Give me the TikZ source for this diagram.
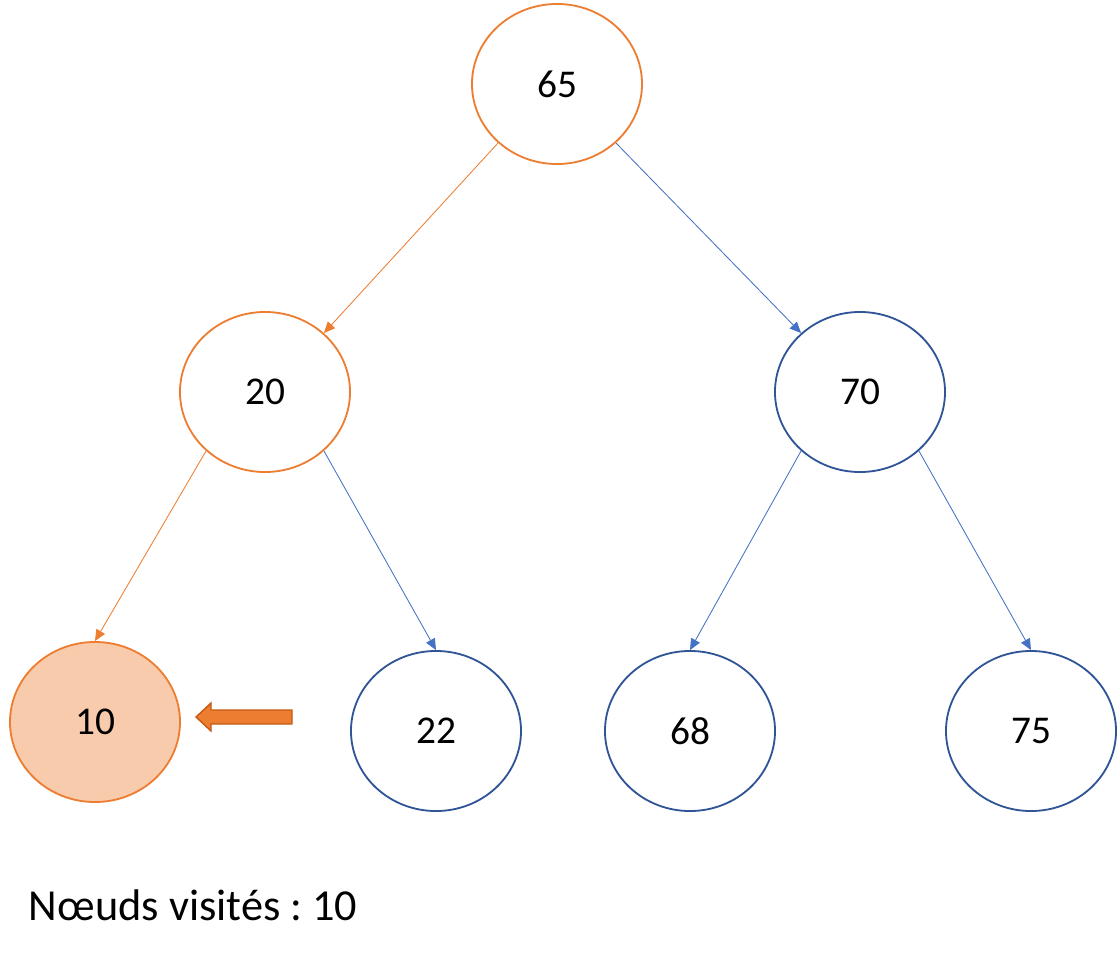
\documentclass[tikz,border=0pt]{standalone}
\usepackage{fontspec}
\setmainfont{Carlito}
\frenchspacing
\usetikzlibrary{shapes.geometric,arrows.meta}
\definecolor{orng}{HTML}{ED7D31}
\definecolor{orngdark}{HTML}{C55A11}
\definecolor{orngfill}{HTML}{F8CBAD}
\definecolor{edgeblue}{HTML}{4472C4}
\definecolor{nodeblue}{HTML}{2F5597}
\tikzset{
  knot/.style={ellipse, draw=nodeblue, line width=1.3pt, minimum width=4.25cm, minimum height=4cm, font=\fontsize{28}{30}\selectfont},
  seen/.style={knot, draw=orng},
  done/.style={seen, fill=orngfill},
  edge/.style={draw=edgeblue, line width=0.6pt, -{Triangle[length=8pt,width=7pt]}},
  path/.style={edge, draw=orng},
  pointer/.style={fill=orng, draw=orngdark, line width=1pt, line join=miter}
}
\begin{document}
\begin{tikzpicture}[x=0.025cm,y=-0.025cm]
    \useasboundingbox (0,0) rectangle (1118,960);

    \node[seen] (n65) at (557,84) {65};
    \node[seen] (n20) at (265,392) {20};
    \node[knot] (n70) at (860,392) {70};
    \node[done] (n10) at (95,722) {10};
    \node[knot] (n22) at (436,731) {22};
    \node[knot] (n68) at (690,731) {68};
    \node[knot] (n75) at (1031,731) {75};

    \draw[path] (n65.225) -- (n20.45);
    \draw[edge] (n65.315) -- (n70.135);
    \draw[path] (n20.225) -- (n10.north);
    \draw[edge] (n20.315) -- (n22.north);
    \draw[edge] (n70.225) -- (n68.north);
    \draw[edge] (n70.315) -- (n75.north);

    % pointer to the visited node
    \draw[pointer] (196,717) -- (211,703) -- (211,710) -- (292,710)
        -- (292,724) -- (211,724) -- (211,731) -- cycle;

    \node[anchor=base west, font=\fontsize{31.5}{34}\selectfont] (label) at (24,920) {Nœuds visités : 10};
\end{tikzpicture}
\end{document}
